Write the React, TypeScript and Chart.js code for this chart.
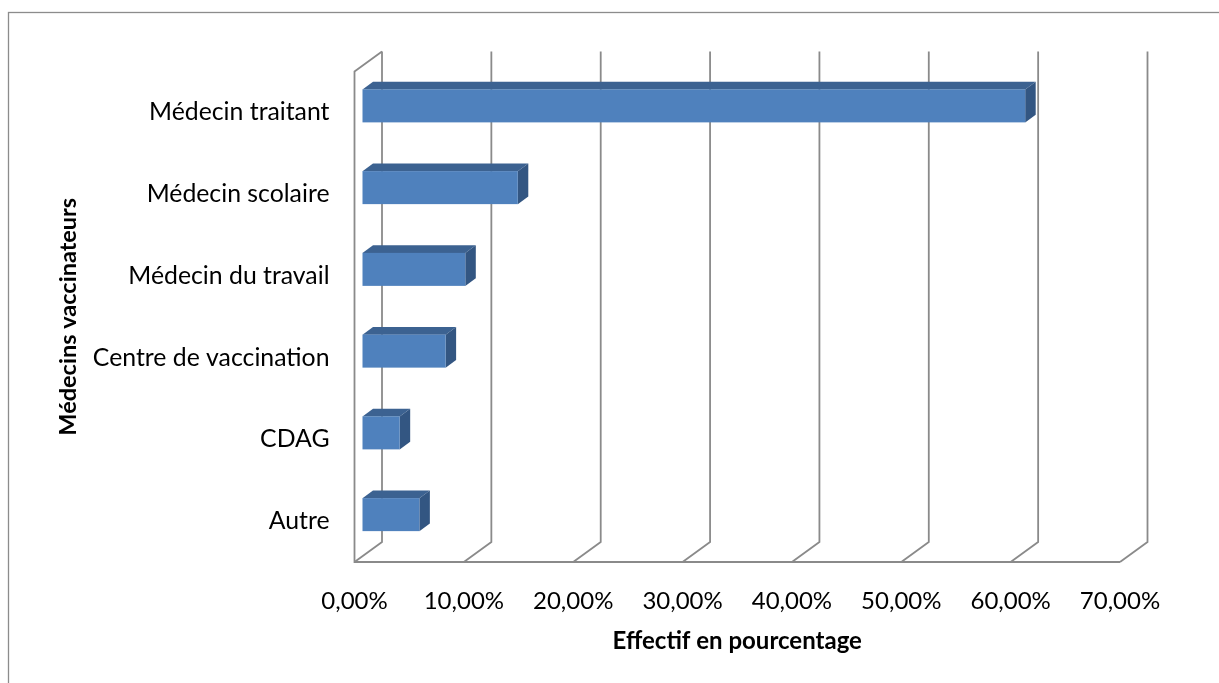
import React, { useEffect, useRef } from "react";
import { Chart, registerables } from "chart.js";

Chart.register(...registerables);

const categories = [
  "Médecin traitant",
  "Médecin scolaire",
  "Médecin du travail",
  "Centre de vaccination",
  "CDAG",
  "Autre",
];
const values = [60.6, 14.2, 9.4, 7.6, 3.4, 5.2];
const xTickValues = [0, 10, 20, 30, 40, 50, 60, 70];
const xTitle = "Effectif en pourcentage";
const yTitle = "Médecins vaccinateurs";

const FONT = "Lato, 'Open Sans', sans-serif";
const GRID = "#8a8a8a";
const DEPTH = { dx: 27.5, dy: -20 };
const BAR_OFF = { dx: 8, dy: -6.5 };
const BAR_DEPTH = { dx: 10.5, dy: -7.6 };

const threeD = {
  id: "threeD",
  beforeDraw(chart: any) {
    const { ctx, chartArea, scales } = chart;
    const { left, right, top, bottom } = chartArea;
    const xs = scales.x;
    ctx.save();
    ctx.fillStyle = "#fff";
    ctx.fillRect(0, 0, chart.width, chart.height);
    ctx.strokeStyle = "#8c8c8c";
    ctx.lineWidth = 1.3;
    ctx.strokeRect(8.5, 12.5, 1300, 800);
    ctx.strokeStyle = GRID;
    ctx.lineWidth = 1.8;
    ctx.lineJoin = "miter";
    ctx.beginPath();
    ctx.moveTo(left + DEPTH.dx, top + DEPTH.dy);
    ctx.lineTo(left, top);
    ctx.lineTo(left, bottom);
    ctx.lineTo(right, bottom);
    ctx.stroke();
    xTickValues.forEach((v) => {
      const px = xs.getPixelForValue(v);
      ctx.beginPath();
      ctx.moveTo(px + DEPTH.dx, top + DEPTH.dy);
      ctx.lineTo(px + DEPTH.dx, bottom + DEPTH.dy);
      ctx.lineTo(px, bottom);
      ctx.stroke();
    });
    ctx.restore();
  },
  afterDatasetsDraw(chart: any) {
    const { ctx } = chart;
    const meta = chart.getDatasetMeta(0);
    ctx.save();
    meta.data.forEach((el: any) => {
      const p = el.getProps(["x", "y", "base", "height"], true);
      const x0 = p.base + BAR_OFF.dx;
      const x1 = p.x + BAR_OFF.dx;
      const t = p.y - p.height / 2 + BAR_OFF.dy;
      const b = p.y + p.height / 2 + BAR_OFF.dy;
      ctx.fillStyle = "#3C6291";
      ctx.beginPath();
      ctx.moveTo(x0, t);
      ctx.lineTo(x1, t);
      ctx.lineTo(x1 + BAR_DEPTH.dx, t + BAR_DEPTH.dy);
      ctx.lineTo(x0 + BAR_DEPTH.dx, t + BAR_DEPTH.dy);
      ctx.closePath();
      ctx.fill();
      ctx.fillStyle = "#335682";
      ctx.beginPath();
      ctx.moveTo(x1, t);
      ctx.lineTo(x1 + BAR_DEPTH.dx, t + BAR_DEPTH.dy);
      ctx.lineTo(x1 + BAR_DEPTH.dx, b + BAR_DEPTH.dy);
      ctx.lineTo(x1, b);
      ctx.closePath();
      ctx.fill();
      ctx.fillStyle = "#4F81BD";
      ctx.fillRect(x0, t, x1 - x0, b - t);
    });
    ctx.restore();
  },
};

export default function App() {
  const ref = useRef<HTMLCanvasElement>(null);
  useEffect(() => {
    if (!ref.current) return;
    const chart = new Chart(ref.current, {
      type: "bar",
      data: {
        labels: categories,
        datasets: [
          {
            data: values,
            backgroundColor: "rgba(0,0,0,0)",
            borderWidth: 0,
            barThickness: 33,
          },
        ],
      },
      options: {
        responsive: false,
        animation: false,
        indexAxis: "y",
        layout: { padding: { left: 0, top: 71.5, right: 99, bottom: 0 } },
        plugins: { legend: { display: false }, tooltip: { enabled: false } },
        scales: {
          x: {
            min: 0,
            max: 70,
            afterBuildTicks: (s: any) => {
              s.ticks = xTickValues.map((v) => ({ value: v }));
            },
            ticks: {
              color: "#000",
              font: { family: FONT, size: 24 },
              padding: 24.6,
              callback: (v: any) => Number(v).toFixed(2).replace(".", ",") + "%",
              maxRotation: 0,
              autoSkip: false,
            },
            grid: { display: false, drawTicks: false },
            border: { display: false },
            title: {
              display: true,
              text: xTitle,
              color: "#000",
              font: { family: FONT, size: 24, weight: "bold" },
              padding: { top: 0, bottom: 27.6 },
            },
            afterFit: (s: any) => {
              s.height = 121;
            },
          },
          y: {
            ticks: {
              color: "#000",
              font: { family: FONT, size: 24.8 },
              padding: 25,
            },
            grid: { display: false, drawTicks: false },
            border: { display: false },
            title: {
              display: true,
              text: yTitle,
              color: "#000",
              font: { family: FONT, size: 23.5, weight: "bold" },
              padding: { top: 53.9, bottom: 0 },
            },
            afterFit: (s: any) => {
              s.width = 354.5;
            },
          },
        },
      },
      plugins: [threeD],
    });
    return () => chart.destroy();
  }, []);
  return (
    <div style={{ position: "fixed", left: 0, top: 0, width: 1219, height: 683 }}>
      <canvas ref={ref} width={1219} height={683} style={{ width: 1219, height: 683 }} />
    </div>
  );
}
